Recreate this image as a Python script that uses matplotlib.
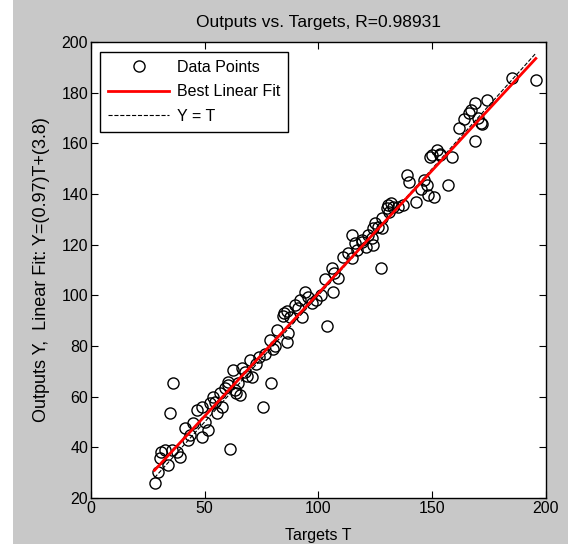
import numpy as np
import matplotlib.pyplot as plt
from matplotlib.patches import Rectangle

# targets (T) and network outputs (Y)
targets = [28, 29.5, 30.3, 31, 32.5, 34, 34.7, 35.6, 36, 39, 41.3, 43.5, 45, 46.6, 48.8,
           48.8, 51.4, 52.3, 53.6, 54.5, 55.4, 56.7, 59, 60.2, 60.2, 61, 62.4, 63.3, 64,
           64.6, 65.5, 66.4, 67.7, 70, 70.8, 74, 75.6, 76.5, 78.7, 79, 80, 82, 84.4, 85,
           86, 86, 86.6, 87.5, 89.7, 91, 92, 93, 94, 95.4, 99, 103, 103.7, 106, 106.4,
           107, 108.6, 113, 114.7, 114.7, 116, 119, 119, 122, 123.5, 124, 124, 125, 127.5,
           128, 128, 130, 130.5, 132, 133, 137, 139, 140, 143, 146.4, 147.7, 148, 149, 150,
           151, 152, 153.4, 153.4, 157, 158.8, 164, 166, 167, 169, 169, 170, 171.5, 172,
           174, 185, 195.6, 38, 42.5, 50, 57.5, 68.5, 72.5, 81, 97, 101, 111, 117, 121,
           126, 131, 135, 145, 162]
outputs = [26, 30.3, 35.8, 38, 39, 33, 53.6, 39, 65.4, 36.2, 47.6, 44.9, 49.6, 54.7, 56,
           44, 46.8, 57.5, 59.9, 58, 53.6, 61.4, 63.4, 65.8, 64.6, 39.3, 70.5, 62.6, 61.4,
           65.4, 60.7, 71.3, 69.7, 74.5, 67.8, 75.7, 56, 77, 82.4, 65.4, 79, 86.3, 92, 93,
           94, 81.6, 85, 91.5, 96, 95, 98, 91.5, 101.3, 99.4, 98, 106.5, 88, 110.8, 101.3,
           108.8, 107, 116.7, 123.8, 114.7, 120.7, 121, 121.9, 124, 122.6, 126.6, 120,
           128.6, 111, 130.5, 126.6, 134.5, 135.7, 136.5, 135, 135.7, 147.5, 144.7, 137,
           145.5, 143.6, 139.6, 154.6, 155.4, 138.8, 157.4, 155.4, 156, 143.6, 154.6,
           169.6, 172, 173, 176, 161, 170, 168, 167.6, 177, 185.8, 185, 38, 43, 50, 56,
           68, 73, 80, 97, 100, 115, 118, 119, 127, 133, 135, 142, 166]

tick_x = [0, 50, 100, 150, 200]
tick_y = [20, 40, 60, 80, 100, 120, 140, 160, 180, 200]

plt.rcParams['font.family'] = ['Liberation Sans', 'DejaVu Sans']

T = np.array(targets)
Y = np.array(outputs)
slope, icpt = 0.97, 3.8
tline = np.array([T.min(), T.max()])

fig = plt.figure(figsize=(5.68, 5.44), dpi=100, facecolor='#c8c8c8')
fig.patches.append(Rectangle((0, 0), 13 / 568, 1, transform=fig.transFigure,
                             facecolor='white', edgecolor='none'))
ax = fig.add_axes([0.160, 0.0846, 0.801, 0.838])

ax.plot(T, Y, 'o', mfc='none', mec='black', ms=8, mew=1, label='Data Points')
ax.plot(tline, tline, 'k--', lw=0.8, label='Y = T')
ax.plot(tline, slope * tline + icpt, color='red', lw=2, label='Best Linear Fit')

ax.set_xlim(0, 200)
ax.set_ylim(20, 200)
ax.set_xticks(tick_x)
ax.set_yticks(tick_y)
ax.tick_params(direction='in', length=5, top=True, right=True, labelsize=11.5, pad=2)
for s in ax.spines.values():
    s.set_linewidth(1)

ax.set_title('Outputs vs. Targets, R=0.98931', fontsize=12.5, pad=11)
ax.set_xlabel('Targets T', fontsize=11.5, labelpad=9)
ax.set_ylabel('Outputs Y,  Linear Fit: Y=(0.97)T+(3.8)', fontsize=13, labelpad=8)

h, l = ax.get_legend_handles_labels()
order = [0, 2, 1]
leg = ax.legend([h[i] for i in order], [l[i] for i in order], loc='upper left',
                fontsize=11.5, handlelength=3.8, handletextpad=0.5, fancybox=False,
                edgecolor='black', framealpha=1, borderaxespad=0.6, labelspacing=0.6,
                borderpad=0.5)
leg.get_frame().set_linewidth(1)

fig.savefig('out.png', dpi=100, facecolor=fig.get_facecolor())
